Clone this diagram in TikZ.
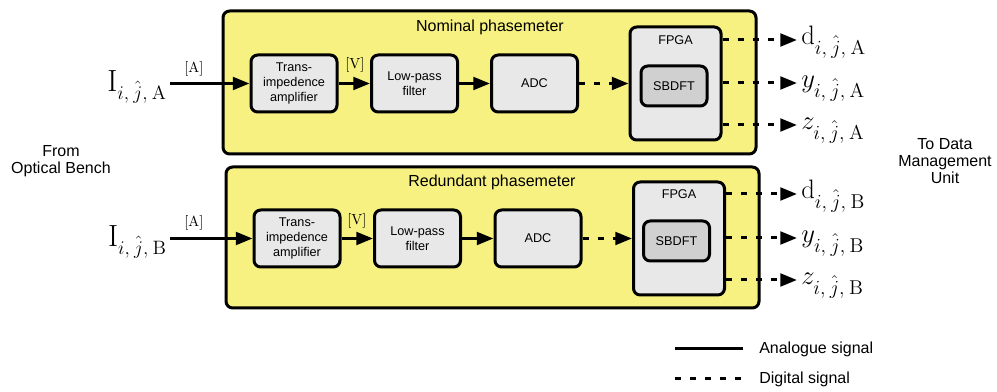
\RequirePackage{fix-cm}
\documentclass[tikz,border=0pt]{standalone}
\usepackage[no-math]{fontspec}
\setmainfont{Liberation Sans}
\usetikzlibrary{arrows.meta}
\DeclareMathSizes{23}{23}{14.5}{10}
\DeclareMathSizes{20}{20}{15}{10}
\definecolor{pmyellow}{RGB}{246,241,128}
\definecolor{boxgray}{RGB}{232,232,232}
\definecolor{dftgray}{RGB}{208,208,208}
\newcommand{\sgsub}[1]{_{i,\mskip4mu\hat{j},\mskip4mu\mathrm{#1}}}
\begin{document}
\begin{tikzpicture}[x=0.75pt,y=-0.75pt,
  pm/.style={draw, line width=2.25pt, fill=pmyellow, rounded corners=5pt, inner sep=0pt, minimum width=399.75pt},
  blk/.style={draw, line width=2.25pt, fill=boxgray, rounded corners=5pt, align=center,
              font=\fontsize{9.5}{11.3}\selectfont, inner sep=0pt, minimum width=64.5pt, minimum height=42.75pt},
  fpga/.style={draw, line width=2.25pt, fill=boxgray, rounded corners=5pt, inner sep=0pt,
              minimum width=68.25pt, minimum height=84.75pt},
  dft/.style={draw, line width=2.25pt, fill=dftgray, rounded corners=5pt, inner sep=0pt,
              font=\fontsize{9.5}{11.3}\selectfont, minimum width=49.5pt, minimum height=30pt},
  lbl/.style={font=\fontsize{9.5}{11.3}\selectfont},
  ttl/.style={font=\fontsize{12}{14}\selectfont},
  side/.style={font=\fontsize{12}{13}\selectfont, align=center},
  unit/.style={font=\fontsize{11}{12}\selectfont},
  inlbl/.style={anchor=base east, font=\fontsize{23}{26}\selectfont, inner sep=0pt},
  outlbl/.style={anchor=base west, font=\fontsize{20}{24}\selectfont, inner sep=0pt},
  ana/.style={line width=2.25pt, -{Triangle[length=12.5pt,width=9.5pt]}},
  dig/.style={line width=2.25pt, dash pattern=on 4.5pt off 6.75pt, -{Triangle[length=12.5pt,width=9.5pt]}},
  legana/.style={line width=2.25pt},
  legdig/.style={line width=2.25pt, dash pattern=on 4.5pt off 6.75pt}
]
\useasboundingbox (0,0) rectangle (997,392);

% ---------------- Nominal phasemeter ----------------
\node[pm, minimum height=107.25pt] (pmA) at (489.5,82.5) {};
\node[ttl] (ttlA) at (490,27) {Nominal phasemeter};
\node[blk] (tiaA) at (294,83.5) {Trans-\\impedence\\amplifier};
\node[blk] (lpA) at (414.5,83.5) {Low-pass\\filter};
\node[blk] (adcA) at (534.5,83.5) {ADC};
\node[fpga] (fpgaA) at (675.5,83.5) {};
\node[lbl] (fpgalA) at (675.5,40) {FPGA};
\node[dft] (dftA) at (674,86) {SBDFT};

\node[inlbl] (inA) at (167,92) {$\mathrm{I}\sgsub{A}$};
\node[unit] (uA1) at (194,69) {$[\mathrm{A}]$};
\node[unit] (uA2) at (355,65) {$[\mathrm{V}]$};
\draw[ana] ([xshift=2.5pt]inA.east |- tiaA.west) -- (tiaA.west);
\draw[ana] (tiaA) -- (lpA);
\draw[ana] (lpA) -- (adcA);
\draw[dig] (adcA) -- (fpgaA);

\coordinate (tA1) at (797,40);
\coordinate (tA2) at (797,83);
\coordinate (tA3) at (797,125);
\draw[dig] (fpgaA.east |- tA1) -- (tA1);
\draw[dig] (fpgaA.east |- tA2) -- (tA2);
\draw[dig] (fpgaA.east |- tA3) -- (tA3);
\node[outlbl] (oA1) at (801,45) {$\mathrm{d}\sgsub{A}$};
\node[outlbl] (oA2) at (801,88) {$y\sgsub{A}$};
\node[outlbl] (oA3) at (801,130) {$z\sgsub{A}$};

% ---------------- Redundant phasemeter ----------------
\node[pm, minimum height=105.75pt] (pmB) at (492.5,237.5) {};
\node[ttl] (ttlB) at (492,182) {Redundant phasemeter};
\node[blk] (tiaB) at (297,238.5) {Trans-\\impedence\\amplifier};
\node[blk] (lpB) at (417.5,238.5) {Low-pass\\filter};
\node[blk] (adcB) at (538,238.5) {ADC};
\node[fpga] (fpgaB) at (679,238.5) {};
\node[lbl] (fpgalB) at (679,194) {FPGA};
\node[dft] (dftB) at (676.5,241) {SBDFT};

\node[inlbl] (inB) at (167,247) {$\mathrm{I}\sgsub{B}$};
\node[unit] (uB1) at (194,223) {$[\mathrm{A}]$};
\node[unit] (uB2) at (357,221) {$[\mathrm{V}]$};
\draw[ana] ([xshift=2.5pt]inB.east |- tiaB.west) -- (tiaB.west);
\draw[ana] (tiaB) -- (lpB);
\draw[ana] (lpB) -- (adcB);
\draw[dig] (adcB) -- (fpgaB);

\coordinate (tB1) at (797,194);
\coordinate (tB2) at (797,238);
\coordinate (tB3) at (797,280);
\draw[dig] (fpgaB.east |- tB1) -- (tB1);
\draw[dig] (fpgaB.east |- tB2) -- (tB2);
\draw[dig] (fpgaB.east |- tB3) -- (tB3);
\node[outlbl] (oB1) at (801,199) {$\mathrm{d}\sgsub{B}$};
\node[outlbl] (oB2) at (801,243) {$y\sgsub{B}$};
\node[outlbl] (oB3) at (801,285) {$z\sgsub{B}$};

% ---------------- side texts ----------------
\node[side] (src) at (61,161) {From\\Optical Bench};
\node[side] (dst) at (945,161) {To Data\\Management\\Unit};

% ---------------- legend ----------------
\coordinate (la1) at (675,348);
\coordinate (la2) at (743,348);
\coordinate (ld1) at (675,378);
\coordinate (ld2) at (743,378);
\draw[legana] (la1) -- (la2);
\draw[legdig] (ld1) -- (ld2);
\node[ttl, anchor=west, inner sep=0pt] (legA) at (759,349) {Analogue signal};
\node[ttl, anchor=west, inner sep=0pt] (legD) at (759,379) {Digital signal};
\end{tikzpicture}
\end{document}
